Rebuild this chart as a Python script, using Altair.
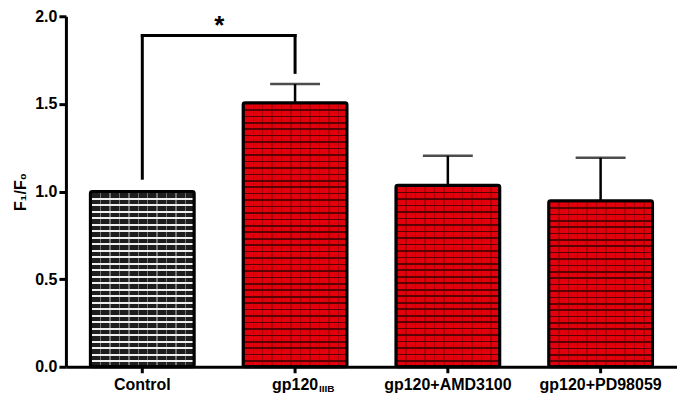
import altair as alt
import pandas as pd

categories = ["Control", "gp120IIIB", "gp120+AMD3100", "gp120+PD98059"]
means = [1.0, 1.507, 1.036, 0.947]
upper = [None, 1.613, 1.204, 1.193]

# significance bracket (Control vs gp120IIIB)
br_x = ["Control", "Control", "gp120IIIB"]
br_x2 = ["Control", "gp120IIIB", "gp120IIIB"]
br_y = [1.076, 1.89, 1.68]
br_y2 = [1.89, 1.89, 1.89]
star_y = 1.90

W, H = 612, 351
PX_PER_UNIT = H / 2.0
FONT = "Liberation Sans"

df = pd.DataFrame({"cat": categories, "mean": means, "upper": upper})
df_err = df.dropna()
df_br = pd.DataFrame({"cat": br_x, "cat2": br_x2, "y": br_y, "y2": br_y2})
df_star = pd.DataFrame({"cat": ["Control"], "y": [star_y], "t": ["*"]})
df_sub = pd.DataFrame({"cat": ["gp120IIIB"], "t": ["IIIB"]})


def stripes(n, brick, mortar, frac, vertical):
    stops = []
    for k in range(n):
        a, b, c = k / n, (k + frac) / n, (k + 1) / n
        stops += [
            alt.GradientStop(offset=a, color=mortar),
            alt.GradientStop(offset=b, color=mortar),
            alt.GradientStop(offset=b, color=brick),
            alt.GradientStop(offset=min(c, 1.0), color=brick),
        ]
    if vertical:
        return alt.LinearGradient(gradient="linear", stops=stops, x1=0, y1=0, x2=0, y2=1)
    return alt.LinearGradient(gradient="linear", stops=stops, x1=0, y1=0, x2=1, y2=0)


xscale = alt.Scale(domain=categories, paddingInner=0.32, paddingOuter=0.16)
xenc = alt.X(
    "cat:N",
    scale=xscale,
    sort=categories,
    axis=alt.Axis(
        title=None,
        labelAngle=0,
        labelExpr="datum.label == 'gp120IIIB' ? 'gp120' : datum.label",
        labelFontSize=16,
        labelFontWeight="bold",
        labelFont=FONT,
        labelColor="black",
        labelPadding=4,
        tickSize=6,
        tickWidth=3,
        tickColor="black",
        domainWidth=3,
        domainColor="black",
    ),
)
yscale = alt.Scale(domain=[0, 2], nice=False)
yenc = alt.Y(
    "mean:Q",
    scale=yscale,
    axis=alt.Axis(
        title="F₁/F₀",
        titleFont=FONT,
        titleFontSize=16,
        titleFontWeight="bold",
        titleColor="black",
        titlePadding=6,
        values=[0, 0.5, 1.0, 1.5, 2.0],
        format=".1f",
        labelFontSize=16,
        labelFontWeight="bold",
        labelFont=FONT,
        labelColor="black",
        labelPadding=2,
        tickSize=7,
        tickWidth=3,
        tickColor="black",
        domainWidth=3,
        domainColor="black",
        grid=False,
    ),
)

layers = []
for i, c in enumerate(categories):
    rows = max(1, round(means[i] * PX_PER_UNIT / 6.4))
    if c == "Control":
        fill = stripes(rows, "#1e1e1e", "#f0f0f0", 0.3, True)
        joints = stripes(11, "rgba(0,0,0,0)", "rgba(240,240,240,0.4)", 0.15, False)
    else:
        fill = stripes(rows, "#e2000c", "#5a0000", 0.25, True)
        joints = stripes(11, "rgba(0,0,0,0)", "rgba(90,0,0,0.35)", 0.15, False)
    base = alt.Chart(df).transform_filter(alt.datum.cat == c)
    layers.append(
        base.mark_bar(strokeWidth=0, cornerRadius=2).encode(x=xenc, y=yenc, fill=alt.value(fill))
    )
    layers.append(
        base.mark_bar(stroke="black", strokeWidth=3, cornerRadius=2).encode(
            x=xenc, y=yenc, fill=alt.value(joints)
        )
    )

err_rule = alt.Chart(df_err).mark_rule(color="black", strokeWidth=2.5).encode(
    x=alt.X("cat:N", scale=xscale, sort=categories),
    y=alt.Y("mean:Q", scale=yscale),
    y2="upper:Q",
)
err_cap = alt.Chart(df_err).mark_tick(color="black", thickness=2.5, size=50).encode(
    x=alt.X("cat:N", scale=xscale, sort=categories),
    y=alt.Y("upper:Q", scale=yscale),
)
bracket = alt.Chart(df_br).mark_rule(color="black", strokeWidth=3, strokeCap="square").encode(
    x=alt.X("cat:N", scale=xscale, sort=categories),
    x2="cat2:N",
    y=alt.Y("y:Q", scale=yscale),
    y2="y2:Q",
)
star = alt.Chart(df_star).mark_text(
    font=FONT, fontSize=26, fontWeight="bold", color="black", dx=77, baseline="alphabetic"
).encode(
    x=alt.X("cat:N", scale=xscale, sort=categories),
    y=alt.Y("y:Q", scale=yscale),
    text="t:N",
)
sub = alt.Chart(df_sub).mark_text(
    font=FONT, fontSize=10, fontWeight="bold", color="black", dx=24, align="left",
    baseline="alphabetic"
).encode(
    x=alt.X("cat:N", scale=xscale, sort=categories),
    y=alt.value(H + 25),
    text="t:N",
)

chart = (
    alt.layer(*layers, err_rule, err_cap, bracket, star, sub)
    .properties(
        width=W,
        height=H,
        autosize=alt.AutoSizeParams(type="none"),
        padding={"left": 58, "top": 8, "right": 0, "bottom": 30},
        background="white",
    )
    .configure_view(stroke=None)
)

chart.save("out.html", embed_options={"renderer": "svg", "actions": False})
